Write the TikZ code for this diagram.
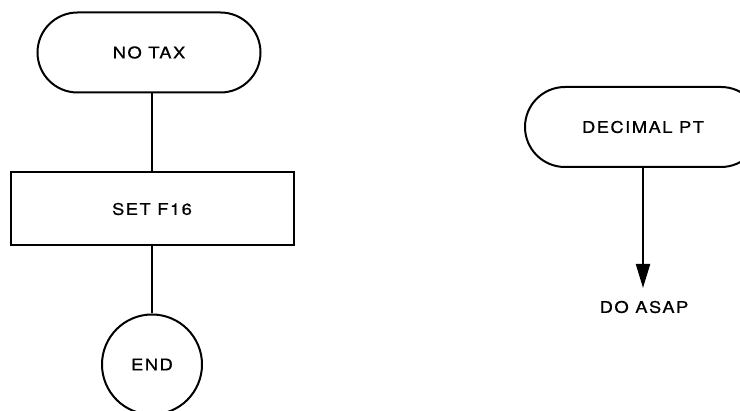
\documentclass[tikz,border=0pt]{standalone}
\usepackage{fontspec}
\setmainfont{TeX Gyre Heros}[FakeStretch=1.15,LetterSpace=9,FakeBold=0.6]
\usetikzlibrary{arrows.meta,shapes.misc}
\begin{document}
\begin{tikzpicture}[x=1pt,y=-1pt,
  lbl/.style={font=\fontsize{16}{19}\selectfont,inner sep=0pt},
  term/.style={draw,line width=2pt,rounded rectangle,minimum height=80pt,lbl},
  proc/.style={draw,line width=2pt,rectangle,minimum width=283pt,minimum height=73pt,lbl},
  endc/.style={draw,line width=2pt,circle,minimum size=100pt,lbl},
  conn/.style={line width=2pt},
  arr/.style={line width=2pt,-{Triangle[length=24pt,width=14pt]}}]
\useasboundingbox (0,0) rectangle (740,411);
\node[term,minimum width=223pt] (notax) at (149,52.5) {NO TAX};
\node[proc] (set) at (152,209) {SET F16};
\node[endc] (end) at (152,364.5) {END};
\draw[conn] (notax.south -| set.north) -- (set.north);
\draw[conn] (set.south) -- (end.north);
\node[term,minimum width=236pt] (dec) at (643,127) {DECIMAL PT};
\node[lbl] (asap) at (644,307) {DO ASAP};
\coordinate (tip) at (643,288);
\draw[arr] (dec.south) -- (tip);
\end{tikzpicture}
\end{document}
